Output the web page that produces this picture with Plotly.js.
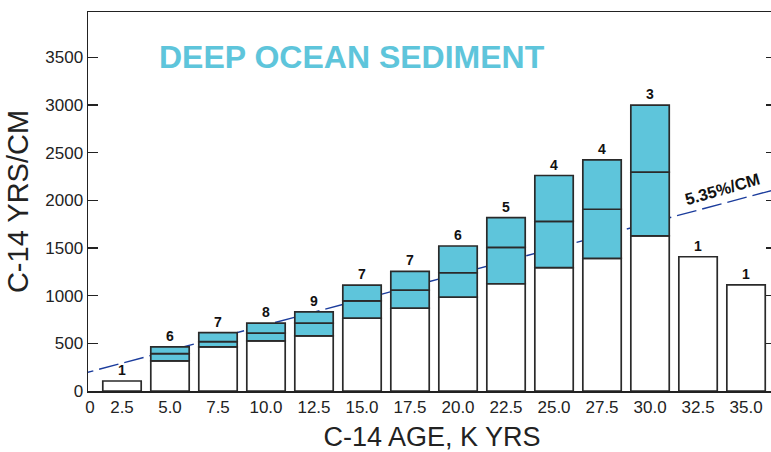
<!DOCTYPE html>
<html>
<head>
<meta charset="utf-8">
<script src="https://cdn.plot.ly/plotly-3.0.1.min.js"></script>
<style>
html,body{margin:0;padding:0;overflow:hidden;background:#fff;}
#chart{width:777px;height:452px;}
</style>
</head>
<body>
<div id="chart"></div>
<script>
// C-14 age bins (K yrs)
const ages = [2.5, 5.0, 7.5, 10.0, 12.5, 15.0, 17.5, 20.0, 22.5, 25.0, 27.5, 30.0, 32.5, 35.0];
const tickLabels = ['2.5','5.0','7.5','10.0','12.5','15.0','17.5','20.0','22.5','25.0','27.5','30.0','32.5','35.0'];
// number of samples per bin
const counts = [1, 6, 7, 8, 9, 7, 7, 6, 5, 4, 4, 3, 1, 1];
// lower bound (top of white bar), mean and upper bound (C-14 yrs/cm)
const lower = [105, 315, 462, 526, 578, 764, 869, 985, 1125, 1293, 1391, 1626, 1408, 1114];
const meanVal = [null, 392, 518, 606, 711, 946, 1058, 1240, 1506, 1780, 1906, 2295, null, null];
const upper = [null, 462, 613, 711, 830, 1111, 1254, 1521, 1818, 2260, 2424, 2999, null, null];
// 5.35%/cm trend line
const trendX = [0, 37];
const trendY = [158, 2138];

const outline = {color: '#2a2a2a', width: 1.7};
const cyan = '#5ec5db';
const FONT = 'Liberation Sans, Arial, sans-serif';

const traces = [
  {type: 'bar', x: ages, y: lower, base: ages.map(() => 0), width: 2.0,
   marker: {color: '#ffffff', line: outline}},
  {type: 'bar', x: ages, base: lower.map((v, i) => meanVal[i] == null ? null : v),
   y: meanVal.map((m, i) => m == null ? null : m - lower[i]), width: 2.0,
   marker: {color: cyan, line: outline}},
  {type: 'bar', x: ages, base: meanVal,
   y: upper.map((u, i) => u == null ? null : u - meanVal[i]), width: 2.0,
   marker: {color: cyan, line: outline}}
];

// trend line drawn beneath the bars
const shapes = [{
  type: 'line', layer: 'below', xref: 'x', yref: 'y',
  x0: trendX[0], y0: trendY[0], x1: trendX[1], y1: trendY[1],
  line: {color: '#1b3c9c', width: 1.4, dash: '20px,6px'}
}];

const annotations = ages.map((a, i) => ({
  x: a, y: upper[i] != null ? upper[i] : lower[i], text: '<b>' + counts[i] + '</b>',
  showarrow: false, xanchor: 'center', yanchor: 'bottom', yshift: 1,
  font: {family: FONT, size: 14, color: '#111'}
}));
annotations.push({
  x: 33.75, y: 2115, text: '<b>5.35%/CM</b>', showarrow: false, textangle: -16,
  xanchor: 'center', yanchor: 'middle',
  font: {family: FONT, size: 16.5, color: '#111'}
});
annotations.push({
  xref: 'paper', yref: 'paper', x: (352 - 88) / 688, y: (390.7 - 57) / 378.7,
  xanchor: 'center', yanchor: 'middle',
  text: '<b>DEEP OCEAN SEDIMENT</b>', showarrow: false,
  font: {family: FONT, size: 32, color: '#5ec5db'}
});

const layout = {
  width: 777, height: 452,
  margin: {l: 88, r: 1, t: 12, b: 61},
  paper_bgcolor: '#fff', plot_bgcolor: '#fff',
  showlegend: false, barmode: 'overlay',
  xaxis: {
    range: [0.73, 36.56],
    tickvals: [0.83].concat(ages), ticktext: ['0'].concat(tickLabels),
    ticks: '', showgrid: false, zeroline: false,
    showline: true, mirror: true, linecolor: '#222', linewidth: 1.5,
    tickfont: {family: FONT, size: 17, color: '#222'},
    title: {text: 'C-14 AGE, K YRS', standoff: 14,
            font: {family: FONT, size: 27, color: '#222'}}
  },
  yaxis: {
    range: [0, 3975],
    tickvals: [0, 500, 1000, 1500, 2000, 2500, 3000, 3500],
    ticks: 'inside', ticklen: 10, tickwidth: 1.5, tickcolor: '#222',
    showgrid: false, zeroline: false,
    showline: true, mirror: 'ticks', linecolor: '#222', linewidth: 1.5,
    tickfont: {family: FONT, size: 17, color: '#222'},
    title: {text: 'C-14 YRS/CM', standoff: 8,
            font: {family: FONT, size: 29, color: '#222'}}
  },
  shapes: shapes,
  annotations: annotations
};

Plotly.newPlot('chart', traces, layout, {displayModeBar: false, staticPlot: true});
</script>
</body>
</html>
